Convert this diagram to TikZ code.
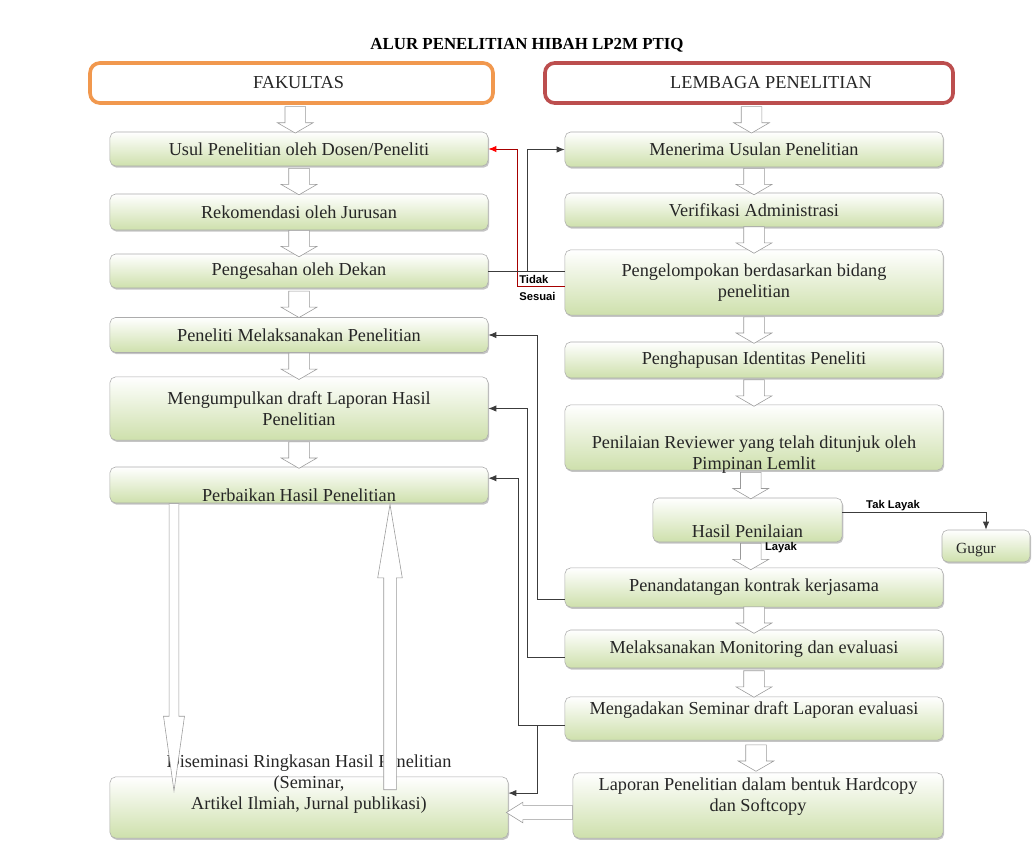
\documentclass[tikz,border=0pt]{standalone}
\usepackage{fontspec}
\setmainfont{Liberation Serif}
\setsansfont{Liberation Sans}
\usepackage{xcolor}
\usepackage{tikz}
\usetikzlibrary{arrows.meta, positioning, shapes.arrows, shadows, calc}
\definecolor{hijaubawah}{RGB}{206,224,172}
\definecolor{oranyefak}{RGB}{241,152,78}
\definecolor{merahlem}{RGB}{188,78,78}
\definecolor{garis}{RGB}{60,60,60}

\begin{document}
\begin{tikzpicture}[
  x=0.025cm, y=-0.025cm,
  every node/.style={font=\fontsize{13}{15}\selectfont, text=black!85},
  kotak/.style={
    draw=gray!65, top color=white, bottom color=hijaubawah, rounded corners=4pt,
    minimum width=9.45cm, align=center, inner sep=2pt,
    drop shadow={shadow xshift=0.8pt, shadow yshift=-1.2pt, fill=black!45}
  },
  kepala/.style={line width=2.6pt, fill=white, rounded corners=7pt, minimum height=1.0cm},
  blok/.style={
    single arrow, draw=gray!80, fill=white, inner sep=0.25cm,
    single arrow head extend=0.19cm, single arrow tip angle=120,
    minimum height=0.6cm, minimum width=0.88cm, rotate=-90, anchor=tail
  },
  alur/.style={draw=garis, line width=0.6pt, -{Latex[length=2mm, width=1.6mm]}},
  tolak/.style={draw=red!65!black, line width=0.6pt, -{Latex[length=2mm, width=1.6mm, fill=red, color=red]}},
  ket/.style={font=\fontsize{8}{12}\selectfont\sffamily\bfseries, text=black, inner sep=0pt, align=left}
]
  \useasboundingbox (0,0) rectangle (1032,842);

  \node[font=\fontsize{12}{14}\selectfont\bfseries, text=black] (judul) at (527,45) {ALUR PENELITIAN HIBAH LP2M PTIQ};

  % Kepala kolom
  \node[kepala, draw=oranyefak, minimum width=10.07cm] (fak) at (291.5,83) {\hspace*{0.35cm}FAKULTAS};
  \node[kepala, draw=merahlem, minimum width=10.2cm] (lem) at (749,83) {\hspace*{1.1cm}LEMBAGA PENELITIAN};

  % Kolom fakultas
  \node[kotak, minimum height=0.85cm] (usul) at (299,149) {Usul Penelitian oleh Dosen/Peneliti};
  \node[kotak, minimum height=0.9cm] (rek) at (299,212) {Rekomendasi oleh Jurusan};
  \node[kotak, minimum height=0.85cm] (sah) at (299,271) {Pengesahan oleh Dekan};
  \node[kotak, minimum height=0.875cm] (pel) at (299,335) {Peneliti Melaksanakan Penelitian};
  \node[kotak, minimum height=1.58cm] (kum) at (299,408.5) {Mengumpulkan draft Laporan Hasil\\Penelitian};
  \node[kotak, minimum height=0.9cm, label={[anchor=base, yshift=1pt]south:Perbaikan Hasil Penelitian}] (baik) at (299,485) {};
  \node[kotak, minimum width=9.95cm, minimum height=1.53cm,
    label={[anchor=north, yshift=0.68cm, align=center]north:{Diseminasi Ringkasan Hasil Penelitian\\(Seminar,\\Artikel Ilmiah, Jurnal publikasi)}}] (dis) at (309,807.5) {};

  % Kolom lembaga penelitian
  \node[kotak, minimum height=0.875cm] (terima) at (754,149.5) {Menerima Usulan Penelitian};
  \node[kotak, minimum height=0.85cm] (verif) at (754,210) {Verifikasi Administrasi};
  \node[kotak, minimum height=1.63cm] (kelompok) at (754,282.5) {Pengelompokan berdasarkan bidang\\penelitian};
  \node[kotak, minimum height=0.9cm] (hapus) at (754,360) {Penghapusan Identitas Peneliti};
  \node[kotak, minimum height=1.63cm,
    label={[anchor=south, yshift=-0.2cm, align=center]south:Penilaian Reviewer yang telah ditunjuk oleh\\Pimpinan Lemlit}] (nilai) at (754,437.5) {};
  \node[kotak, minimum width=4.73cm, minimum height=1.1cm, label={[anchor=south]south:Hasil Penilaian}] (hasil) at (747.5,520) {};
  \node[kotak, minimum width=2.2cm, minimum height=0.8cm,
    label={[anchor=south, xshift=-0.25cm, font=\fontsize{11}{13}\selectfont]south:Gugur}] (gugur) at (986,546) {};
  \node[kotak, minimum height=0.98cm] (tanda) at (754,587.5) {Penandatangan kontrak kerjasama};
  \node[kotak, minimum height=0.95cm] (monev) at (754,649) {Melaksanakan Monitoring dan evaluasi};
  \node[kotak, minimum height=1.08cm, label={[anchor=north]north:Mengadakan Seminar draft Laporan evaluasi}] (sem) at (754,718.5) {};
  \node[kotak, minimum width=9.25cm, minimum height=1.63cm,
    label={[anchor=north, align=center]north:Laporan Penelitian dalam bentuk Hardcopy\\dan Softcopy}] (lapor) at (758,805.5) {};

  % Panah blok antar kotak
  \node[blok] (b1) at ($(fak.south)!0.5!(usul.north)+(0,-12)$) {};
  \node[blok] (b2) at ($(usul.south)!0.5!(rek.north)+(0,-12)$) {};
  \node[blok] (b3) at ($(rek.south)!0.5!(sah.north)+(0,-12)$) {};
  \node[blok] (b4) at ($(sah.south)!0.5!(pel.north)+(0,-12)$) {};
  \node[blok] (b5) at ($(pel.south)!0.5!(kum.north)+(0,-12)$) {};
  \node[blok] (b6) at ($(kum.south)!0.5!(baik.north)+(0,-12)$) {};
  \node[blok] (c1) at ($(lem.south)!0.5!(terima.north)+(0,-12)$) {};
  \node[blok] (c2) at ($(terima.south)!0.5!(verif.north)+(0,-12)$) {};
  \node[blok] (c3) at ($(verif.south)!0.5!(kelompok.north)+(0,-12)$) {};
  \node[blok] (c4) at ($(kelompok.south)!0.5!(hapus.north)+(0,-12)$) {};
  \node[blok] (c5) at ($(hapus.south)!0.5!(nilai.north)+(0,-12)$) {};
  \node[blok] (c6) at ($(nilai.south)!0.5!(hasil.north)+(0,-12)$) {};
  \node[blok] (c7) at ($(hasil.south)!0.5!(tanda.north)+(0,-12)$) {};
  \node[blok] (c8) at ($(tanda.south)!0.5!(monev.north)+(0,-12)$) {};
  \node[blok] (c9) at ($(monev.south)!0.5!(sem.north)+(0,-12)$) {};
  \node[blok] (c10) at ($(sem.south)!0.5!(lapor.north)+(0,-12)$) {};

  % Panah blok panjang
  \node[blok, inner sep=0.115cm, single arrow head extend=0.14cm, single arrow tip angle=16,
    minimum height=7.18cm, minimum width=0.51cm] (turun) at (baik.south -| 174,0) {};
  \node[blok, rotate=180, inner sep=0.15cm, single arrow head extend=0.15cm, single arrow tip angle=19,
    minimum height=7.13cm, minimum width=0.6cm] (naik) at (390,790) {};
  \node[blok, rotate=-90, inner sep=0.17cm, single arrow head extend=0.08cm, single arrow tip angle=64,
    minimum height=1.65cm, minimum width=0.5cm] (kiri) at ($(lapor.west)+(0,7)$) {};

  % Garis penghubung
  \coordinate (xa) at (537,0);
  \coordinate (xb) at (527,0);
  \coordinate (xc) at (518,0);
  \coordinate (xd) at (517,0);

  \draw[tolak] ([yshift=-0.1cm]kelompok.west) -- ([yshift=-0.1cm]kelompok.west -| xd) |- (usul.east);
  \draw[draw=garis, line width=0.6pt] (sah.east) -- (sah.east -| kelompok.west);
  \draw[alur] (sah.east -| xb) |- (terima.west);
  \node[ket, anchor=west] (tsesuai) at (519,288) {Tidak\\Sesuai};

  \draw[alur] ([yshift=-0.31cm]tanda.west) -- ([yshift=-0.31cm]tanda.west -| xa) |- (pel.east);
  \draw[alur, {Latex[length=2mm, width=1.6mm]}-] (kum.east) -- (kum.east -| xb) |- ([yshift=-0.2cm]monev.west);
  \draw[alur] ([yshift=-0.18cm]sem.west) -- ([yshift=-0.18cm]sem.west -| xc) |- ([yshift=0.17cm]baik.east);
  \draw[alur] ([yshift=-0.18cm]sem.west -| xa) |- ([yshift=0.36cm]dis.east);

  \draw[alur] ([yshift=0.18cm]hasil.east) -| (gugur.north);
  \node[ket] (taklayak) at (893,506) {Tak Layak};
  \node[ket] (layak) at (781,548) {Layak};

\end{tikzpicture}
\end{document}
